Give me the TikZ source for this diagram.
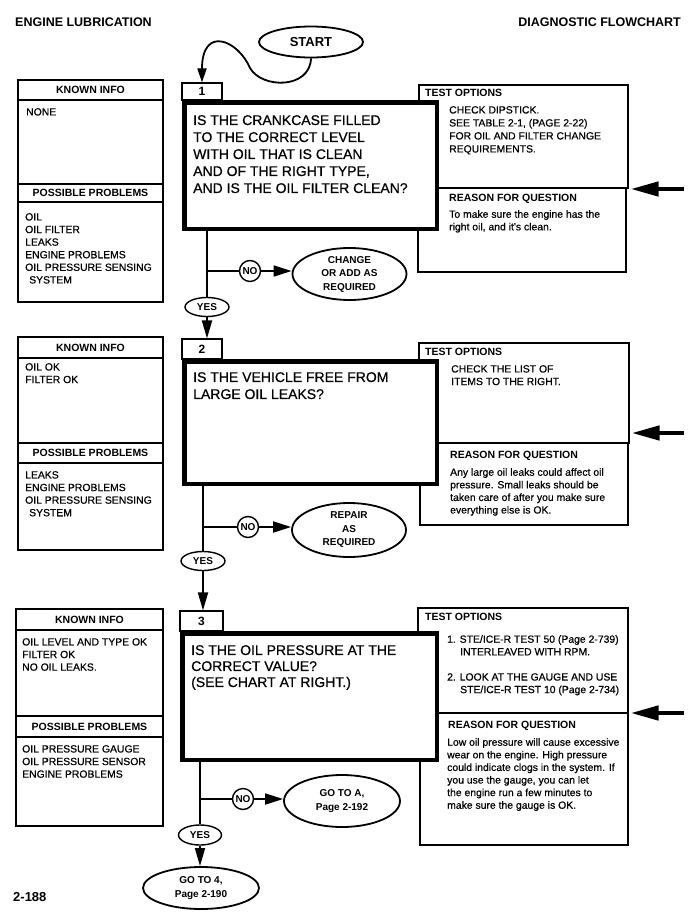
\documentclass[tikz,border=0pt]{standalone}
\usepackage{fontspec}
\setmainfont{Liberation Sans}
\newfontfamily\medf[FakeBold=0.6]{Liberation Sans}
\usetikzlibrary{arrows.meta,shapes.geometric}
\newcommand\fbody{\medf\fontsize{10.4}{12.6}\selectfont}
\newcommand\fhead{\fontsize{10.5}{12.6}\selectfont\bfseries}
\newcommand\fques{\medf\fontsize{14}{17}\selectfont}
\begin{document}
\begin{tikzpicture}[x=1pt,y=-1pt,
  thinbox/.style={draw, line width=1.1pt, rectangle, inner sep=0pt},
  tabbox/.style={draw, line width=1.1pt, rectangle, inner sep=0pt, font=\fontsize{12}{14}\selectfont\bfseries},
  qbox/.style={draw, line width=4.5pt, rectangle, fill=white, inner sep=0pt},
  thinline/.style={line width=1.1pt},
  txt/.style={inner sep=0pt, anchor=north west, align=left, font=\fbody},
  hdtxt/.style={inner sep=0pt, anchor=north west, align=left, font=\fhead},
  hdc/.style={inner sep=0pt, font=\fhead},
  qtxt/.style={inner sep=0pt, anchor=north west, align=left, font=\fques},
  oval/.style={ellipse, draw, line width=1.8pt, inner sep=0pt, align=center, font=\fontsize{10}{13.5}\selectfont\bfseries},
  yesnode/.style={ellipse, draw, line width=1.4pt, inner sep=0pt, minimum width=44pt, minimum height=19pt, font=\fontsize{10}{12}\selectfont\bfseries},
  nonode/.style={circle, draw, line width=1.4pt, inner sep=0pt, minimum size=21pt, font=\fontsize{10}{12}\selectfont\bfseries},
  conn/.style={line width=1.8pt},
  arrS/.style={-{Triangle[length=14pt,width=9pt]}},
  arrN/.style={-{Triangle[length=18pt,width=11pt]}},
  arrY/.style={-{Triangle[length=18pt,width=10pt]}},
  arrBig/.style={line width=4.5pt, -{Triangle[length=28pt,width=14pt]}},
  title/.style={inner sep=0pt, font=\fontsize{12.5}{14}\selectfont\bfseries}
]
\fill[white] (0,0) rectangle (694,919);
\useasboundingbox (0,0) rectangle (694,919);

% titles
\node[title, anchor=west] (ttl) at (15,22) {ENGINE LUBRICATION};
\node[title, anchor=east] (ttr) at (681,22) {DIAGNOSTIC FLOWCHART};
\node[inner sep=0pt, anchor=west, font=\fontsize{13}{15}\selectfont\bfseries] (pg) at (13,897) {2-188};

% START
\node[oval, minimum width=104pt, minimum height=31pt, font=\fontsize{13}{15}\selectfont\bfseries] (start) at (311,42) {START};

% ===== known info boxes =====
\node[thinbox, minimum width=145pt, minimum height=222pt] (k1) at (90.5,191) {};
\draw[thinline] (k1.west |- 0,100) -- (k1.east |- 0,100);
\draw[thinline] (k1.west |- 0,184) -- (k1.east |- 0,184);
\draw[thinline] (k1.west |- 0,202) -- (k1.east |- 0,202);
\node[hdc] (k1h) at (90.5,90) {KNOWN INFO};
\node[hdc] (k1p) at (90.5,193) {POSSIBLE PROBLEMS};
\node[txt] (k1a) at (26,108) {NONE};
\node[txt] (k1b) at (25,213) {OIL\\OIL FILTER\\LEAKS\\ENGINE PROBLEMS\\OIL PRESSURE SENSING\\\hspace*{4pt}SYSTEM};

\node[thinbox, minimum width=145pt, minimum height=213pt] (k2) at (90.5,443.5) {};
\draw[thinline] (k2.west |- 0,358) -- (k2.east |- 0,358);
\draw[thinline] (k2.west |- 0,443) -- (k2.east |- 0,443);
\draw[thinline] (k2.west |- 0,463) -- (k2.east |- 0,463);
\node[hdc] (k2h) at (90.5,347.5) {KNOWN INFO};
\node[hdc] (k2p) at (90.5,453) {POSSIBLE PROBLEMS};
\node[txt] (k2a) at (25,363) {OIL OK\\FILTER OK};
\node[txt] (k2b) at (25,471) {LEAKS\\ENGINE PROBLEMS\\OIL PRESSURE SENSING\\\hspace*{4pt}SYSTEM};

\node[thinbox, minimum width=147pt, minimum height=217pt] (k3) at (89.5,717.5) {};
\draw[thinline] (k3.west |- 0,630) -- (k3.east |- 0,630);
\draw[thinline] (k3.west |- 0,716) -- (k3.east |- 0,716);
\draw[thinline] (k3.west |- 0,737) -- (k3.east |- 0,737);
\node[hdc] (k3h) at (89.5,619.5) {KNOWN INFO};
\node[hdc] (k3p) at (89.5,726.5) {POSSIBLE PROBLEMS};
\node[txt] (k3a) at (22,638) {OIL LEVEL AND TYPE OK\\FILTER OK\\NO OIL LEAKS.};
\node[txt] (k3b) at (22,745) {OIL PRESSURE GAUGE\\OIL PRESSURE SENSOR\\ENGINE PROBLEMS};

% ===== tabs =====
\node[tabbox, minimum width=40pt, minimum height=17pt] (tab1) at (202,91.5) {1};
\node[tabbox, minimum width=40pt, minimum height=20pt] (tab2) at (202,349) {2};
\node[tabbox, minimum width=43pt, minimum height=20pt] (tab3) at (201.5,621) {3};

% ===== test options / reason boxes =====
\node[thinbox, minimum width=209pt, minimum height=103pt] (t1) at (523.5,136.5) {};
\node[thinbox, minimum width=208pt, minimum height=84pt] (r1) at (522,230) {};
\node[thinbox, minimum width=210pt, minimum height=100pt] (t2) at (524,393) {};
\node[thinbox, minimum width=208pt, minimum height=82pt] (r2) at (524,484) {};
\node[thinbox, minimum width=210pt, minimum height=105pt] (t3) at (523,660.5) {};
\node[thinbox, minimum width=208pt, minimum height=132pt] (r3) at (524,779) {};

% ===== question boxes =====
\node[qbox, minimum width=252.5pt, minimum height=126.5pt] (q1) at (310.5,165.5) {};
\node[qbox, minimum width=252.5pt, minimum height=122.5pt] (q2) at (310.5,422.5) {};
\node[qbox, minimum width=254.5pt, minimum height=126.5pt] (q3) at (309.5,696.5) {};

\node[qtxt] (q1t) at (193,115) {IS THE CRANKCASE FILLED\\TO THE CORRECT LEVEL\\WITH OIL THAT IS CLEAN\\AND OF THE RIGHT TYPE,\\AND IS THE OIL FILTER CLEAN?};
\node[qtxt] (q2t) at (193,372) {IS THE VEHICLE FREE FROM\\LARGE OIL LEAKS?};
\node[qtxt, font=\medf\fontsize{14}{16}\selectfont] (q3t) at (191,645) {IS THE OIL PRESSURE AT THE\\CORRECT VALUE?\\(SEE CHART AT RIGHT.)};

% ===== test / reason texts =====
\node[hdtxt] (t1h) at (425,89) {TEST OPTIONS};
\node[txt, font=\medf\fontsize{10.4}{13}\selectfont] (t1a) at (449,106) {CHECK DIPSTICK.\\SEE TABLE 2-1, (PAGE 2-22)\\FOR OIL AND FILTER CHANGE\\REQUIREMENTS.};
\node[hdtxt] (r1h) at (449,194) {REASON FOR QUESTION};
\node[txt] (r1a) at (449,210) {To make sure the engine has the\\right oil, and it's clean.};

\node[hdtxt] (t2h) at (425,348) {TEST OPTIONS};
\node[txt] (t2a) at (451,365) {CHECK THE LIST OF\\ITEMS TO THE RIGHT.};
\node[hdtxt] (r2h) at (450,451) {REASON FOR QUESTION};
\node[txt] (r2a) at (450,468) {Any large oil leaks could affect oil\\pressure. Small leaks should be\\taken care of after you make sure\\everything else is OK.};

\node[hdtxt] (t3h) at (425,613) {TEST OPTIONS};
\node[txt] (t3a) at (447,635) {1. STE/ICE-R TEST 50 (Page 2-739)\\\hspace*{13pt}INTERLEAVED WITH RPM.\\[12.6pt]2. LOOK AT THE GAUGE AND USE\\\hspace*{13pt}STE/ICE-R TEST 10 (Page 2-734)};
\node[hdtxt] (r3h) at (448,721) {REASON FOR QUESTION};
\node[txt] (r3a) at (447,738) {Low oil pressure will cause excessive\\wear on the engine. High pressure\\could indicate clogs in the system. If\\you use the gauge, you can let\\the engine run a few minutes to\\make sure the gauge is OK.};

% ===== big side arrows =====
\coordinate (a1) at (684,189);
\coordinate (a2) at (684,433);
\coordinate (a3) at (684,713);
\draw[arrBig] (a1) -- ([xshift=2pt]a1 -| t1.east);
\draw[arrBig] (a2) -- ([xshift=2pt]a2 -| t2.east);
\draw[arrBig] (a3) -- ([xshift=2pt]a3 -| t3.east);

% ===== outcomes =====
\node[oval, minimum width=114pt, minimum height=52pt] (chg) at (349.5,274) {CHANGE\\OR ADD AS\\REQUIRED};
\node[oval, minimum width=114pt, minimum height=54pt] (rep) at (349,530) {REPAIR\\AS\\REQUIRED};
\node[oval, minimum width=116pt, minimum height=52pt] (gta) at (342,801) {GO TO A,\\Page 2-192};
\node[oval, minimum width=116pt, minimum height=42pt] (gt4) at (201,888) {GO TO 4,\\Page 2-190};

\node[nonode] (n1) at (250,271) {NO};
\node[nonode] (n2) at (248,527) {NO};
\node[nonode] (n3) at (243,799) {NO};
\node[yesnode] (y1) at (207,307) {YES};
\node[yesnode] (y2) at (203,561) {YES};
\node[yesnode, minimum width=43pt, minimum height=20pt] (y3) at (200,835) {YES};

% ===== connectors =====
\draw[conn, arrS] (start.south) .. controls (310,89) and (262,89) .. (250,68) .. controls (238,40) and (202,25) .. (tab1.north);

\draw[conn] (y1 |- q1.south) -- (y1.north);
\draw[conn] (y1 |- n1) -- (n1.west);
\draw[conn, arrN] (n1.east) -- (n1 -| chg.west);
\draw[conn, arrY] (y1.south) -- (y1 |- tab2.north);

\draw[conn] (y2 |- q2.south) -- (y2.north);
\draw[conn] (y2 |- n2) -- (n2.west);
\draw[conn, arrN] (n2.east) -- (n2 -| rep.west);
\draw[conn, arrY] (y2.south) -- (y2 |- tab3.north);

\draw[conn] (y3 |- q3.south) -- (y3.north);
\draw[conn] (y3 |- n3) -- (n3.west);
\draw[conn, arrN] (n3.east) -- (n3 -| gta.west);
\draw[conn, arrY] (y3.south) -- (y3 |- gt4.north);
\end{tikzpicture}
\end{document}
